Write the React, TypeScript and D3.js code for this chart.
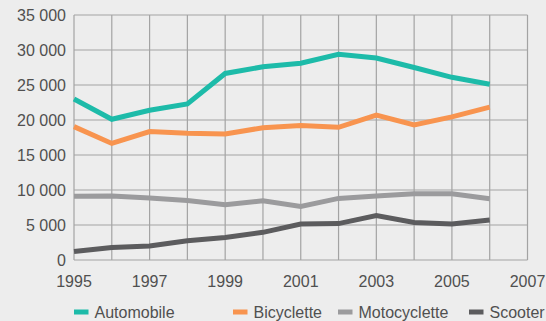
import React from "react";
import * as d3 from "d3";

const years = [1995, 1996, 1997, 1998, 1999, 2000, 2001, 2002, 2003, 2004, 2005, 2006];
const automobile = [23000, 20100, 21400, 22300, 26650, 27600, 28100, 29400, 28850, 27500, 26100, 25100];
const bicyclette = [19050, 16650, 18350, 18100, 18000, 18900, 19200, 18950, 20700, 19300, 20450, 21850];
const motocyclette = [9100, 9150, 8850, 8500, 7900, 8450, 7650, 8800, 9150, 9450, 9450, 8750];
const scooter = [1200, 1800, 2000, 2750, 3200, 3950, 5150, 5200, 6350, 5350, 5150, 5700];
const yTicks = [0, 5000, 10000, 15000, 20000, 25000, 30000, 35000];
const xTicks = [1995, 1997, 1999, 2001, 2003, 2005, 2007];
const seriesNames = ["Automobile", "Bicyclette", "Motocyclette", "Scooter"];
const seriesColors = ["#1dbba9", "#f8944f", "#9b9b9d", "#5c5c5e"];

const W = 546, H = 321;
const M = { left: 74, right: 18.5, top: 15, bottom: 61 };

export default function App() {
  const x = d3.scaleLinear().domain([1995, 2007]).range([M.left, W - M.right]);
  const y = d3.scaleLinear().domain([0, 35000]).range([H - M.bottom, M.top]);
  const data = [automobile, bicyclette, motocyclette, scooter];
  const line = d3.line<number>().x((_, i) => x(years[i])).y((d) => y(d));
  const allYears = d3.range(1995, 2008);
  const legendX = [74, 233, 338, 469];
  const font = "'Liberation Sans', Arial, sans-serif";
  return (
    <svg width={W} height={H} style={{ position: "absolute", left: 0, top: 0, background: "#ededed" }}>
      <rect x={0} y={0} width={W} height={H} fill="#ededed" />
      <g stroke="#a3a3a3" strokeWidth={1.2}>
        {allYears.map((yr) => (
          <line key={yr} x1={x(yr)} x2={x(yr)} y1={y(0)} y2={y(35000)} />
        ))}
        {yTicks.map((t) => (
          <line key={t} x1={x(1995)} x2={x(2007)} y1={y(t)} y2={y(t)} />
        ))}
      </g>
      {data.map((d, i) => (
        <path key={i} d={line(d) || ""} fill="none" stroke={seriesColors[i]} strokeWidth={5} />
      ))}
      <g fontFamily={font} fontSize={16} fill="#505050">
        {yTicks.map((t) => (
          <text key={t} x={66} y={y(t)} dy="0.36em" textAnchor="end">
            {d3.format(",")(t).replace(/,/g, " ")}
          </text>
        ))}
        {xTicks.map((t) => (
          <text key={t} x={x(t)} y={287} textAnchor="middle">
            {t}
          </text>
        ))}
        {seriesNames.map((n, i) => (
          <g key={n}>
            <rect x={legendX[i]} y={309.5} width={14.5} height={5} fill={seriesColors[i]} />
            <text x={legendX[i] + 20.5} y={317.5}>{n}</text>
          </g>
        ))}
      </g>
    </svg>
  );
}
